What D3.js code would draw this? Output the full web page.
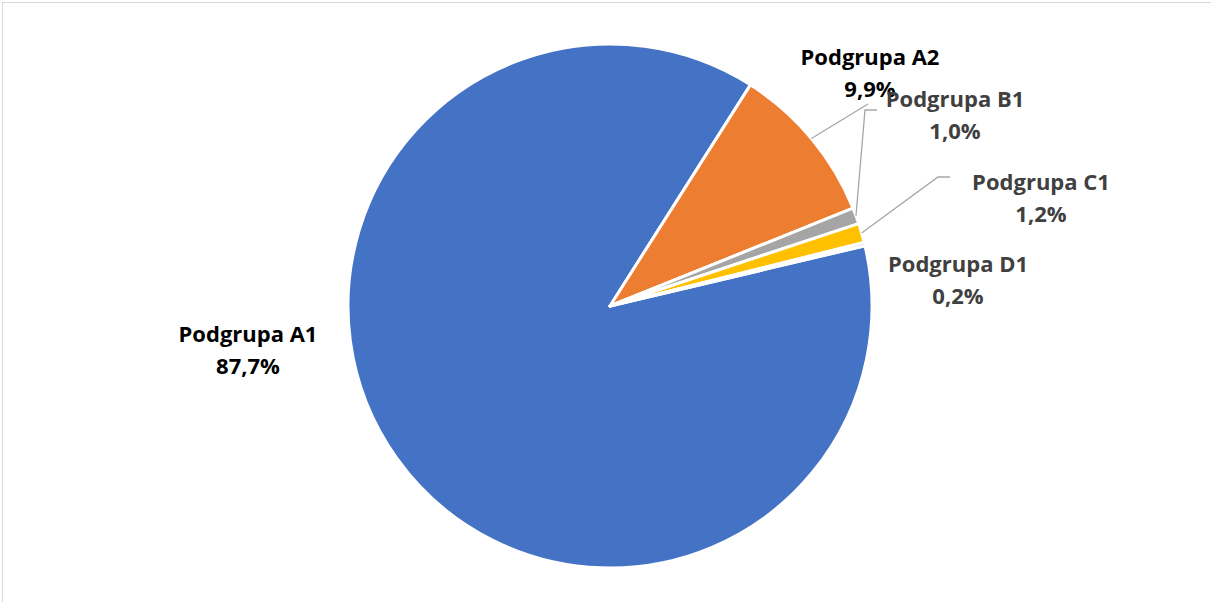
<!DOCTYPE html>
<html lang="pl">
<head>
  <meta charset="UTF-8">
  <title>Podgrupy</title>
  <script src="https://d3js.org/d3.v7.min.js"></script>
  <style>
    body { margin: 0; background: #fff; }
    text { font-family: "Open Sans", "Liberation Sans", sans-serif; font-weight: bold; }
  </style>
</head>
<body>
  <svg width="1211" height="602"></svg>
  <script>
    // data
    const categories = ["Podgrupa A1", "Podgrupa A2", "Podgrupa B1", "Podgrupa C1", "Podgrupa D1"];
    const values = [87.7, 9.9, 1.0, 1.2, 0.2];
    const colors = ["#4472C4", "#ED7D31", "#A5A5A5", "#FFC000", "#5B9BD5"];
    const textColors = ["#000000", "#000000", "#404040", "#404040", "#404040"];

    // label centres and leader elbows (layout only)
    const labelPos = [[248, 335], [870, 58], [955, 100], [1041, 183], [958, 265]];
    const leaderEnds = [null, [[868, 104]], [[865, 110], [877, 110]], [[938, 177], [950, 177]], null];

    const svg = d3.select("svg");
    const cx = 610, cy = 306, r = 262;

    // light chart-area frame
    svg.append("rect")
      .attr("x", 2.5).attr("y", 2.5)
      .attr("width", 1300).attr("height", 700)
      .attr("fill", "none").attr("stroke", "#d9d9d9");

    const start = 76.7 * Math.PI / 180;
    const pie = d3.pie().sort(null).startAngle(start).endAngle(start + 2 * Math.PI);
    const arcs = pie(values);
    const arc = d3.arc().innerRadius(0).outerRadius(r);

    const g = svg.append("g").attr("transform", `translate(${cx},${cy})`);

    g.selectAll("path")
      .data(arcs)
      .enter().append("path")
      .attr("d", arc)
      .attr("fill", (d, i) => colors[i])
      .attr("stroke", "#fff")
      .attr("stroke-width", 3)
      .attr("stroke-linejoin", "round");

    // leader lines from slice edge
    arcs.forEach((d, i) => {
      if (!leaderEnds[i]) return;
      const mid = (d.startAngle + d.endAngle) / 2;
      const p0 = [cx + r * Math.sin(mid), cy - r * Math.cos(mid)];
      const pts = [p0].concat(leaderEnds[i]);
      svg.append("path")
        .attr("d", d3.line()(pts))
        .attr("fill", "none")
        .attr("stroke", "#a6a6a6")
        .attr("stroke-width", 1.3);
    });

    const fmt = v => d3.format(".1f")(v).replace(".", ",") + "%";

    const labels = svg.append("g").selectAll("text")
      .data(categories)
      .enter().append("text")
      .attr("text-anchor", "middle")
      .attr("font-size", 22)
      .attr("fill", (d, i) => textColors[i])
      .attr("x", (d, i) => labelPos[i][0])
      .attr("y", (d, i) => labelPos[i][1] + 7);

    labels.append("tspan").text(d => d);
    labels.append("tspan")
      .attr("x", (d, i) => labelPos[i][0])
      .attr("dy", 32)
      .text((d, i) => fmt(values[i]));
  </script>
</body>
</html>
